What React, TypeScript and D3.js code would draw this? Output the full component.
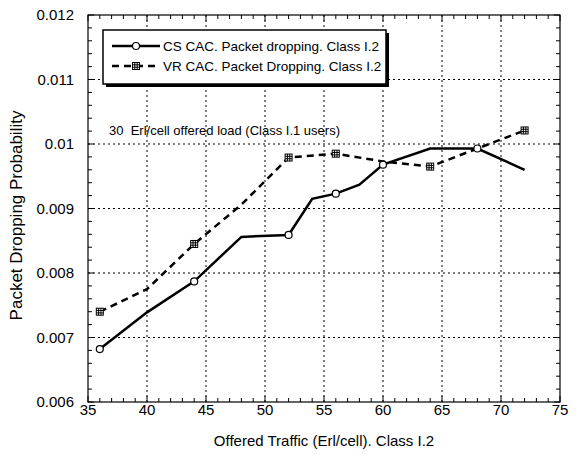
import React, { useEffect, useRef } from 'react';
import * as d3 from 'd3';

// CS CAC. Packet dropping. Class I.2
const csTraffic = [36, 40, 44, 48, 52, 54, 56, 58, 60, 64, 68, 72];
const csDropping = [0.00682, 0.00739, 0.00787, 0.00856, 0.00859, 0.00915, 0.00923, 0.00937, 0.00968, 0.00993, 0.00993, 0.0096];
const csMarked = [36, 44, 52, 56, 60, 68];

// VR CAC. Packet Dropping. Class I.2
const vrTraffic = [36, 40, 44, 48, 52, 56, 60, 64, 68, 72];
const vrDropping = [0.0074, 0.00775, 0.00845, 0.00906, 0.00979, 0.00985, 0.00973, 0.00965, 0.00993, 0.01021];
const vrMarked = [36, 44, 52, 56, 64, 72];

const xTicks = [35, 40, 45, 50, 55, 60, 65, 70, 75];
const yTicks = [0.006, 0.007, 0.008, 0.009, 0.01, 0.011, 0.012];
const yTickLabels = ['0.006', '0.007', '0.008', '0.009', '0.01', '0.011', '0.012'];

const legendLabels = ['CS CAC. Packet dropping. Class I.2', 'VR CAC. Packet Dropping. Class I.2'];
const noteText = '30  Erl/cell offered load (Class I.1 users)';

function App() {
    const svgRef = useRef(null);

    useEffect(() => {
        document.body.style.margin = '0';
        const svg = d3.select(svgRef.current);
        svg.selectAll('*').remove();

        const width = 587;
        const height = 455;
        const margin = { top: 15, right: 27, bottom: 53, left: 88 };
        const font = 'Liberation Sans, Arial, sans-serif';

        const x = d3.scaleLinear().domain([35, 75]).range([margin.left, width - margin.right]);
        const y = d3.scaleLinear().domain([0.006, 0.012]).range([height - margin.bottom, margin.top]);
        const [x0, x1] = x.range();
        const [y0, y1] = y.range();

        svg.append('rect').attr('width', width).attr('height', height).attr('fill', '#fff');

        // dotted grid
        const grid = svg.append('g').attr('stroke', '#000').attr('stroke-width', 1).attr('stroke-dasharray', '2,3');
        grid.selectAll('.gx').data(xTicks.slice(1, -1)).enter().append('line')
            .attr('x1', d => x(d)).attr('x2', d => x(d)).attr('y1', y0).attr('y2', y1);
        grid.selectAll('.gy').data(yTicks.slice(1, -1)).enter().append('line')
            .attr('y1', d => y(d)).attr('y2', d => y(d)).attr('x1', x0).attr('x2', x1);

        // inward ticks on all sides
        const ticks = svg.append('g').attr('stroke', '#000').attr('stroke-width', 1);
        const xMinor = d3.range(35, 75.01, 1);
        const yMinor = d3.range(0, 31).map(i => 0.006 + i * 0.0002);
        xMinor.forEach(v => {
            const len = v % 5 === 0 ? 6 : 4;
            ticks.append('line').attr('x1', x(v)).attr('x2', x(v)).attr('y1', y0).attr('y2', y0 - len);
            ticks.append('line').attr('x1', x(v)).attr('x2', x(v)).attr('y1', y1).attr('y2', y1 + len);
        });
        yMinor.forEach((v, i) => {
            const len = i % 5 === 0 ? 6 : 4;
            ticks.append('line').attr('y1', y(v)).attr('y2', y(v)).attr('x1', x0).attr('x2', x0 + len);
            ticks.append('line').attr('y1', y(v)).attr('y2', y(v)).attr('x1', x1).attr('x2', x1 - len);
        });

        svg.append('rect')
            .attr('x', x0).attr('y', y1).attr('width', x1 - x0).attr('height', y0 - y1)
            .attr('fill', 'none').attr('stroke', '#000').attr('stroke-width', 1.2);

        // tick labels
        svg.append('g').selectAll('text').data(xTicks).enter().append('text')
            .attr('x', d => x(d)).attr('y', y0 + 13)
            .attr('text-anchor', 'middle').attr('font-family', font).attr('font-size', 15)
            .text(d => d);
        svg.append('g').selectAll('text').data(yTicks).enter().append('text')
            .attr('x', x0 - 14).attr('y', d => y(d) + 5)
            .attr('text-anchor', 'end').attr('font-family', font).attr('font-size', 15)
            .text((d, i) => yTickLabels[i]);

        // axis titles
        svg.append('text')
            .attr('x', (x0 + x1) / 2).attr('y', 446)
            .attr('text-anchor', 'middle').attr('font-family', font).attr('font-size', 15)
            .text('Offered Traffic (Erl/cell). Class I.2');
        svg.append('text')
            .attr('transform', `translate(22,${(y0 + y1) / 2 + 7}) rotate(-90)`)
            .attr('text-anchor', 'middle').attr('font-family', font).attr('font-size', 17)
            .text('Packet Dropping Probability');

        svg.append('text')
            .attr('x', 109).attr('y', 135)
            .attr('font-family', font).attr('font-size', 13).attr('xml:space', 'preserve')
            .style('white-space', 'pre')
            .text(noteText);

        const line = d3.line<[number, number]>().x(d => x(d[0])).y(d => y(d[1]));
        const csPts = csTraffic.map((t, i) => [t, csDropping[i]] as [number, number]);
        const vrPts = vrTraffic.map((t, i) => [t, vrDropping[i]] as [number, number]);

        svg.append('path').datum(vrPts).attr('d', line)
            .attr('fill', 'none').attr('stroke', '#000').attr('stroke-width', 2.5).attr('stroke-dasharray', '7,5');
        svg.append('path').datum(csPts).attr('d', line)
            .attr('fill', 'none').attr('stroke', '#000').attr('stroke-width', 2.5);

        const circleMark = (g, cx, cy) => {
            g.append('circle').attr('cx', cx).attr('cy', cy).attr('r', 3.5)
                .attr('fill', '#fff').attr('stroke', '#000').attr('stroke-width', 1.2);
        };
        const squareMark = (g, cx, cy) => {
            const s = 7;
            const m = g.append('g').attr('stroke', '#000').attr('stroke-width', 1);
            m.append('rect').attr('x', cx - s / 2).attr('y', cy - s / 2).attr('width', s).attr('height', s).attr('fill', '#fff');
            [-1.2, 1.2].forEach(o => {
                m.append('line').attr('x1', cx + o).attr('x2', cx + o).attr('y1', cy - s / 2).attr('y2', cy + s / 2);
                m.append('line').attr('y1', cy + o).attr('y2', cy + o).attr('x1', cx - s / 2).attr('x2', cx + s / 2);
            });
        };

        const marks = svg.append('g');
        csPts.filter(p => csMarked.includes(p[0])).forEach(p => circleMark(marks, x(p[0]), y(p[1])));
        vrPts.filter(p => vrMarked.includes(p[0])).forEach(p => squareMark(marks, x(p[0]), y(p[1])));

        // legend
        const lg = svg.append('g');
        const lx = 103, ly = 30, lw = 283, lh = 54;
        lg.append('rect').attr('x', lx + 3).attr('y', ly + 3).attr('width', lw).attr('height', lh).attr('fill', '#000');
        lg.append('rect').attr('x', lx).attr('y', ly).attr('width', lw).attr('height', lh)
            .attr('fill', '#fff').attr('stroke', '#000').attr('stroke-width', 1.5);
        legendLabels.forEach((label, i) => {
            const yy = ly + 16 + i * 20;
            lg.append('line').attr('x1', lx + 9).attr('x2', lx + 57).attr('y1', yy).attr('y2', yy)
                .attr('stroke', '#000').attr('stroke-width', 2.5)
                .attr('stroke-dasharray', i === 0 ? null : '7,5');
            if (i === 0) circleMark(lg, lx + 33, yy);
            else squareMark(lg, lx + 33, yy);
            lg.append('text').attr('x', lx + 60).attr('y', yy + 5)
                .attr('font-family', font).attr('font-size', 13.5)
                .text(label);
        });
    }, []);

    return <svg ref={svgRef} width={587} height={455} style={{ display: 'block' }}></svg>;
}

export default App;
